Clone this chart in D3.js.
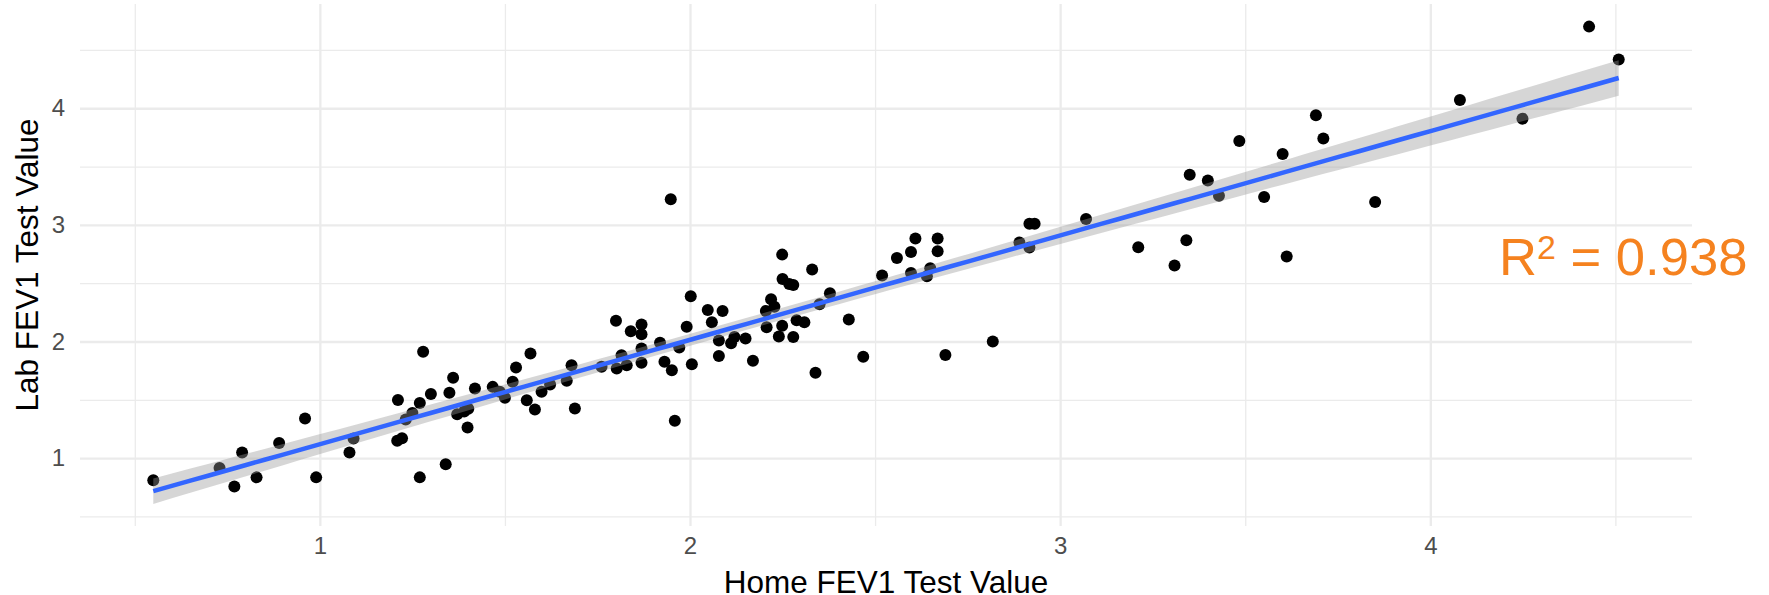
<!DOCTYPE html>
<html>
<head>
<meta charset="utf-8">
<script src="https://cdn.jsdelivr.net/npm/d3@7"></script>
<style>
  body { margin: 0; background: #fff; }
  svg { display: block; font-family: "Liberation Sans", Arial, Helvetica, sans-serif; }
  .grid line { stroke: #EBEBEB; }
  .grid path { display: none; }
  .tickLabels text { fill: #4D4D4D; }
</style>
</head>
<body>
<script>
(function(){

  //home vs lab FEV1 readings
  var homeFev1 = [0.550, 0.729, 0.769, 0.790, 0.829, 0.890, 0.960, 0.990, 1.080, 1.091,
    1.209, 1.211, 1.222, 1.232, 1.250, 1.270, 1.270, 1.279, 1.300, 1.340,
    1.350, 1.360, 1.371, 1.390, 1.401, 1.399, 1.419, 1.467, 1.486, 1.500,
    1.521, 1.530, 1.559, 1.569, 1.581, 1.599, 1.622, 1.667, 1.680, 1.689,
    1.761, 1.800, 1.802, 1.815, 1.829, 1.840, 1.869, 1.869, 1.869, 1.869,
    1.919, 1.931, 1.948, 1.951, 1.959, 1.971, 1.991, 2.002, 2.005, 2.048,
    2.059, 2.078, 2.078, 2.088, 2.111, 2.120, 2.150, 2.170, 2.205, 2.207,
    2.219, 2.228, 2.240, 2.249, 2.250, 2.249, 2.268, 2.279, 2.279, 2.288,
    2.309, 2.330, 2.339, 2.350, 2.378, 2.429, 2.468, 2.519, 2.559, 2.597,
    2.597, 2.609, 2.640, 2.649, 2.669, 2.669, 2.690, 2.818, 2.890, 2.917,
    2.917, 2.931, 3.070, 3.211, 3.309, 3.341, 3.350, 3.399, 3.429, 3.484,
    3.551, 3.601, 3.612, 3.691, 3.711, 3.851, 4.080, 4.249, 4.429, 4.509];
  var labFev1 = [0.810, 0.915, 0.757, 1.049, 0.835, 1.130, 1.340, 0.835, 1.048, 1.168,
    1.150, 1.499, 1.171, 1.332, 1.387, 1.472, 0.835, 1.912, 1.549, 0.948,
    1.560, 1.689, 1.377, 1.400, 1.423, 1.262, 1.597, 1.611, 1.569, 1.517,
    1.654, 1.777, 1.497, 1.897, 1.417, 1.569, 1.631, 1.663, 1.797, 1.425,
    1.783, 2.177, 1.768, 1.883, 1.797, 2.088, 2.146, 2.063, 1.940, 1.817,
    1.989, 1.826, 3.220, 1.754, 1.320, 1.949, 2.126, 2.389, 1.805, 2.270,
    2.165, 2.009, 1.875, 2.261, 1.986, 2.038, 2.026, 1.835, 2.261, 2.122,
    2.362, 2.299, 2.043, 2.745, 2.536, 2.136, 2.493, 2.484, 2.038, 2.183,
    2.165, 2.617, 1.733, 2.319, 2.414, 2.188, 1.870, 2.565, 2.716, 2.768,
    2.588, 2.884, 2.559, 2.629, 2.884, 2.774, 1.884, 2.000, 2.848, 2.807,
    3.009, 3.009, 3.050, 2.808, 2.652, 2.869, 3.429, 3.381, 3.249, 3.719,
    3.239, 3.608, 2.728, 3.940, 3.740, 3.197, 4.070, 3.911, 4.700, 4.419];

  var majorTicks = [1, 2, 3, 4]; //labelled ticks on both axes
  var minorTicks = [0.5, 1.5, 2.5, 3.5, 4.5]; //minor grid
  var r2Value = "0.938"; //annotation text

  var width = 1769,
      height = 595,
      left = 80, right = 1692, top = 4, bottom = 526;

  var svg = d3.select("body").append("svg")
    .attr("width", width)
    .attr("height", height);

  var x = d3.scaleLinear().domain([0.352, 4.707]).range([left, right]);
  var y = d3.scaleLinear().domain([0.418, 4.894]).range([bottom, top]);

  //minor grid lines
  svg.append("g")
    .attr("class", "grid")
    .attr("transform", "translate(0," + bottom + ")")
    .call(d3.axisBottom(x).tickValues(minorTicks).tickSize(-(bottom - top)).tickFormat(""))
    .selectAll("line").attr("stroke-width", 1.3);
  svg.append("g")
    .attr("class", "grid")
    .attr("transform", "translate(" + left + ",0)")
    .call(d3.axisLeft(y).tickValues(minorTicks).tickSize(-(right - left)).tickFormat(""))
    .selectAll("line").attr("stroke-width", 1.3);

  //major grid lines + tick labels
  var xAxis = svg.append("g")
    .attr("class", "grid tickLabels")
    .attr("transform", "translate(0," + bottom + ")")
    .call(d3.axisBottom(x).tickValues(majorTicks).tickSize(-(bottom - top)).tickPadding(11).tickFormat(d3.format("d")));
  xAxis.selectAll("line").attr("stroke-width", 2.3);
  xAxis.selectAll("text").attr("font-size", 24);

  var yAxis = svg.append("g")
    .attr("class", "grid tickLabels")
    .attr("transform", "translate(" + left + ",0)")
    .call(d3.axisLeft(y).tickValues(majorTicks).tickSize(-(right - left)).tickPadding(15).tickFormat(d3.format("d")));
  yAxis.selectAll("line").attr("stroke-width", 2.3);
  yAxis.selectAll("text").attr("font-size", 24);

  d3.selectAll(".grid").attr("font-family", null).attr("font-size", null);

  //points
  var pts = homeFev1.map(function(d, i){ return [d, labFev1[i]]; });
  svg.append("g").selectAll("circle")
    .data(pts)
    .enter()
    .append("circle")
    .attr("cx", function(d){ return x(d[0]); })
    .attr("cy", function(d){ return y(d[1]); })
    .attr("r", 6)
    .attr("fill", "#000");

  //least squares fit with 95% band, like geom_smooth(method = "lm")
  var n = pts.length,
      xbar = d3.mean(homeFev1),
      ybar = d3.mean(labFev1),
      sxx = d3.sum(homeFev1, function(d){ return (d - xbar) * (d - xbar); }),
      sxy = d3.sum(pts, function(d){ return (d[0] - xbar) * (d[1] - ybar); }),
      slope = sxy / sxx,
      icpt = ybar - slope * xbar,
      sse = d3.sum(pts, function(d){ var r = d[1] - (icpt + slope * d[0]); return r * r; }),
      s = Math.sqrt(sse / (n - 2)),
      tq = 1.98;

  var xs = d3.range(80).map(function(i){
    var lo = d3.min(homeFev1), hi = d3.max(homeFev1);
    return lo + (hi - lo) * i / 79;
  });
  var fit = xs.map(function(v){
    var yh = icpt + slope * v,
        se = s * Math.sqrt(1 / n + (v - xbar) * (v - xbar) / sxx);
    return { x: v, y: yh, lo: yh - tq * se, hi: yh + tq * se };
  });

  svg.append("path")
    .datum(fit)
    .attr("fill", "#999999")
    .attr("fill-opacity", 0.4)
    .attr("d", d3.area()
      .x(function(d){ return x(d.x); })
      .y0(function(d){ return y(d.lo); })
      .y1(function(d){ return y(d.hi); }));

  svg.append("path")
    .datum(fit)
    .attr("fill", "none")
    .attr("stroke", "#3366FF")
    .attr("stroke-width", 4.5)
    .attr("d", d3.line()
      .x(function(d){ return x(d.x); })
      .y(function(d){ return y(d.y); }));

  //axis titles
  svg.append("text")
    .attr("x", (left + right) / 2)
    .attr("y", 593)
    .attr("text-anchor", "middle")
    .attr("font-size", 31.5)
    .attr("fill", "#000")
    .text("Home FEV1 Test Value");

  svg.append("text")
    .attr("transform", "translate(38," + ((top + bottom) / 2) + ") rotate(-90)")
    .attr("text-anchor", "middle")
    .attr("font-size", 31.5)
    .attr("fill", "#000")
    .text("Lab FEV1 Test Value");

  //R squared annotation
  var r2 = svg.append("text")
    .attr("x", 1499)
    .attr("y", 275)
    .attr("font-size", 52.6)
    .attr("fill", "#F5821F");
  r2.append("tspan").text("R");
  r2.append("tspan").attr("font-size", 34).attr("dy", -16).text("2");
  r2.append("tspan").attr("dy", 16).text(" = " + r2Value);

})();
</script>
</body>
</html>
